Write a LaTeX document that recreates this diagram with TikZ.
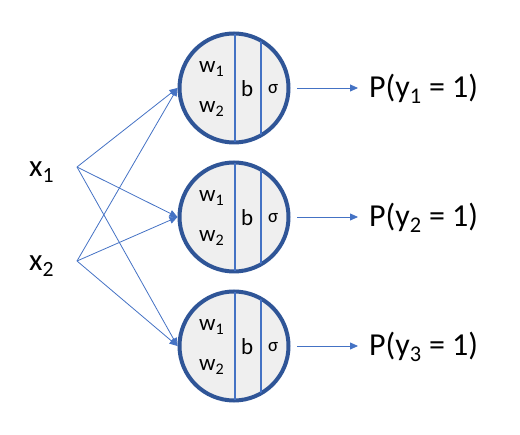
\documentclass[tikz,border=0pt]{standalone}
\usepackage{fontspec}
\setmainfont{Carlito}
\usetikzlibrary{arrows.meta}
\definecolor{rim}{HTML}{2F5597}
\definecolor{lineblue}{HTML}{4472C4}
\definecolor{cellfill}{HTML}{EFEFEF}
\tikzset{
  neuron/.style={circle, draw=rim, line width=4pt, fill=cellfill, minimum size=109pt, inner sep=0pt},
  conn/.style={draw=lineblue, line width=0.8pt, -{Triangle[length=8pt,width=7pt]}},
  divider/.style={draw=lineblue, line width=1.3pt},
  lbl/.style={inner sep=0pt, anchor=base west},
}
\begin{document}
\begin{tikzpicture}[x=1pt,y=-1pt]
\useasboundingbox (0,0) rectangle (520,435);
\foreach \i/\y in {1/88,2/217,3/346}{
  \node[neuron] (c\i) at (234,\y) {};
  \begin{scope}
    \clip (234,\y) circle (54pt);
    \draw[divider] (235,\y-60) -- (235,\y+60);
    \draw[divider] (261,\y-60) -- (261,\y+60);
  \end{scope}
  \node[lbl, font=\fontsize{23}{23}\selectfont] (w1\i) at (199,\y-15) {w\textsubscript{1}};
  \node[lbl, font=\fontsize{23}{23}\selectfont] (w2\i) at (199,\y+25) {w\textsubscript{2}};
  \node[lbl, font=\fontsize{23}{23}\selectfont] (b\i) at (241,\y+9) {b};
  \node[lbl, font=\fontsize{19}{19}\selectfont] (s\i) at (268,\y+6) {σ};
  \coordinate (o\i) at (297,\y);
  \coordinate (a\i) at (358,\y);
  \node[lbl, font=\fontsize{32}{32}\selectfont] (p\i) at (369,\y+10) {P(y\textsubscript{\i} = 1)};
  \draw[conn] (o\i) -- (a\i);
}
\node[lbl, font=\fontsize{31}{31}\selectfont] (x1) at (29,177) {x\textsubscript{1}};
\node[lbl, font=\fontsize{31}{31}\selectfont] (x2) at (29,271) {x\textsubscript{2}};
\coordinate (i1) at (77,167);
\coordinate (i2) at (77,261);
\foreach \j in {1,2}{
  \foreach \i in {1,2,3}{
    \draw[conn] (i\j) -- (c\i.west);
  }
}
\end{tikzpicture}
\end{document}
